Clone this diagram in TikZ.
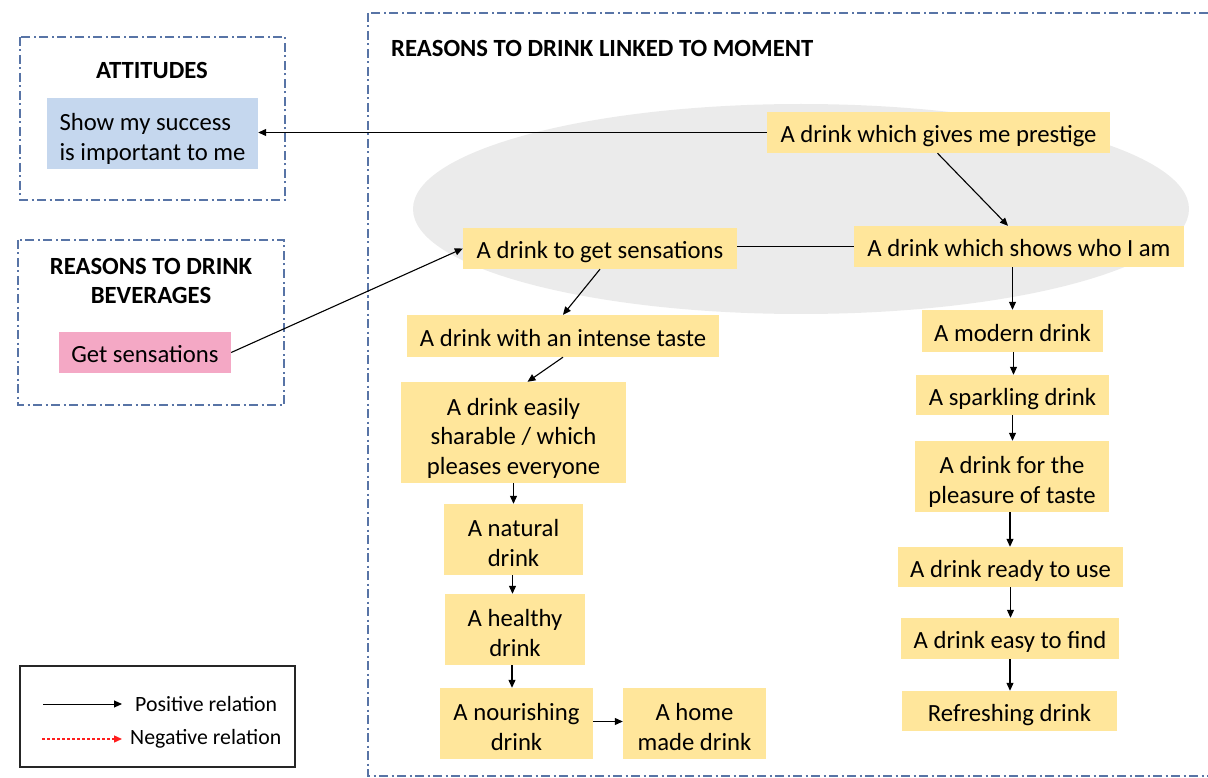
\documentclass[tikz,border=0pt]{standalone}
\usepackage{fontspec}
\setmainfont{Carlito}
\usetikzlibrary{arrows.meta,calc}
\definecolor{boxy}{RGB}{255,230,155}
\definecolor{boxb}{RGB}{197,215,238}
\definecolor{boxp}{RGB}{244,168,197}
\definecolor{frameblue}{RGB}{88,116,166}
\definecolor{ellg}{RGB}{235,235,235}
\definecolor{negred}{RGB}{255,30,30}
\newcommand{\topstrut}{\rule{0pt}{25pt}}
\newcommand{\mls}{\rule{0pt}{29pt}}
\newcommand{\botstrut}{\rule[-5pt]{0pt}{5pt}}
\begin{document}
\begin{tikzpicture}[x=1pt,y=-1pt,
  yb/.style={rectangle, fill=boxy, inner sep=0pt, align=center, font=\fontsize{24.7}{29.5}\selectfont,
    execute at begin node=\topstrut, execute at end node=\botstrut},
  sz/.style 2 args={minimum width=#1, minimum height=#2},
  frm/.style={draw=frameblue, line width=1.5pt, dash pattern=on 9pt off 3.5pt on 2pt off 3.5pt},
  ttl/.style={font=\fontsize{24.7}{29}\selectfont\bfseries, align=center, inner sep=0pt},
  arr/.style={-{Triangle[length=8pt,width=7pt]}, line width=1.1pt, black},
  lnk/.style={line width=1.1pt, black},
  leg/.style={font=\fontsize{21.8}{26}\selectfont, inner sep=0pt, anchor=west}
]
\useasboundingbox (0,0) rectangle (1208,778);
\begin{scope}
\clip (0,0) rectangle (1208,778);
% background ellipse
\fill[ellg] (801,209) ellipse [x radius=388, y radius=105];
% frames
\draw[frm] (20,37) rectangle (285,200);
\draw[frm] (18,240) rectangle (284,405);
\draw[frm] (368,13) rectangle (1240,776);
\end{scope}
% titles
\node[ttl] (tatt) at (152,70) {ATTITUDES};
\node[ttl] (trb) at (151,281) {REASONS TO DRINK\\BEVERAGES};
\node[ttl, anchor=west] (tmom) at (391,48) {REASONS TO DRINK LINKED TO MOMENT};
% left boxes
\node[yb, fill=boxb, align=left, sz={211}{71}] (succ) at (152.5,133.5) {\mls Show my success\\is important to me};
\node[yb, fill=boxp, sz={172}{41}] (gsen) at (145,352.5) {Get sensations};
% main boxes
\node[yb, sz={343}{41}] (prest) at (938.5,132.5) {A drink which gives me prestige};
\node[yb, sz={330}{41}] (shows) at (1019,246.5) {A drink which shows who I am};
\node[yb, sz={274}{41}] (sens) at (600,248.5) {A drink to get sensations};
\node[yb, sz={312}{42}] (intense) at (563,336) {A drink with an intense taste};
\node[yb, sz={225}{101}] (share) at (513.5,432.5) {\mls A drink easily\\sharable / which\\pleases everyone};
\node[yb, sz={139}{71}] (natural) at (513.5,539.5) {\mls A natural\\drink};
\node[yb, sz={140}{71}] (healthy) at (515,629.5) {\mls A healthy\\drink};
\node[yb, sz={153}{71}] (nourish) at (516.5,723.5) {\mls A nourishing\\drink};
\node[yb, sz={143}{71}] (home) at (694.5,723.5) {\mls A home\\made drink};
\node[yb, sz={181}{42}] (modern) at (1012.5,331) {A modern drink};
\node[yb, sz={193}{40}] (spark) at (1012.5,395) {A sparkling drink};
\node[yb, sz={194}{71}] (pleas) at (1012,476.5) {\mls A drink for the\\pleasure of taste};
\node[yb, sz={225}{40}] (ready) at (1010.5,567) {A drink ready to use};
\node[yb, sz={218}{41}] (easy) at (1010,638.5) {A drink easy to find};
\node[yb, sz={215}{40}] (refr) at (1009.5,711) {Refreshing drink};
% connectors
\draw[arr] (prest.west) -- (succ.east |- prest.west);
\draw[arr] ([xshift=-1]prest.south) -- ([xshift=-11]shows.north);
\draw[lnk] (sens.east |- shows.west) -- (shows.west);
\draw[arr] (gsen.east) -- (sens.west);
\draw[arr] (sens.south) -- (intense.north);
\draw[arr] (intense.south) -- ([xshift=14]share.north);
\draw[arr] (share.south) -- (natural.north);
\draw[arr] ([xshift=-1]natural.south) -- ([xshift=-1]natural.south |- healthy.north);
\draw[arr] ([xshift=-3]healthy.south) -- ([xshift=-3]healthy.south |- nourish.north);
\draw[arr] ([yshift=2]nourish.east) -- ([yshift=2]home.west);
\draw[arr] (modern.north |- shows.south) -- (modern.north);
\draw[arr] ([xshift=1]modern.south) -- ([xshift=1]spark.north);
\draw[arr] (spark.south) -- (spark.south |- pleas.north);
\draw[arr] ([xshift=-2]pleas.south) -- ([xshift=-2]pleas.south |- ready.north);
\draw[arr] (ready.south) -- (ready.south |- easy.north);
\draw[arr] (easy.south) -- (easy.south |- refr.north);
% legend
\node[draw=black!85, line width=1.3pt, minimum width=275, minimum height=101, inner sep=0pt] (legbox) at (157.5,716.5) {};
\node[leg] (lpos) at (135,704) {Positive relation};
\node[leg] (lneg) at (130,739) {Negative relation};
\coordinate (p1) at (43,704);
\coordinate (p2) at (122,704);
\coordinate (n1) at (42,739);
\coordinate (n2) at (122,739);
\draw[arr, line width=1pt] (p1) -- (p2);
\draw[-{Triangle[length=8pt,width=7pt]}, negred, line width=1.4pt, dash pattern=on 3pt off 2pt] (n1) -- (n2);
\end{tikzpicture}
\end{document}
